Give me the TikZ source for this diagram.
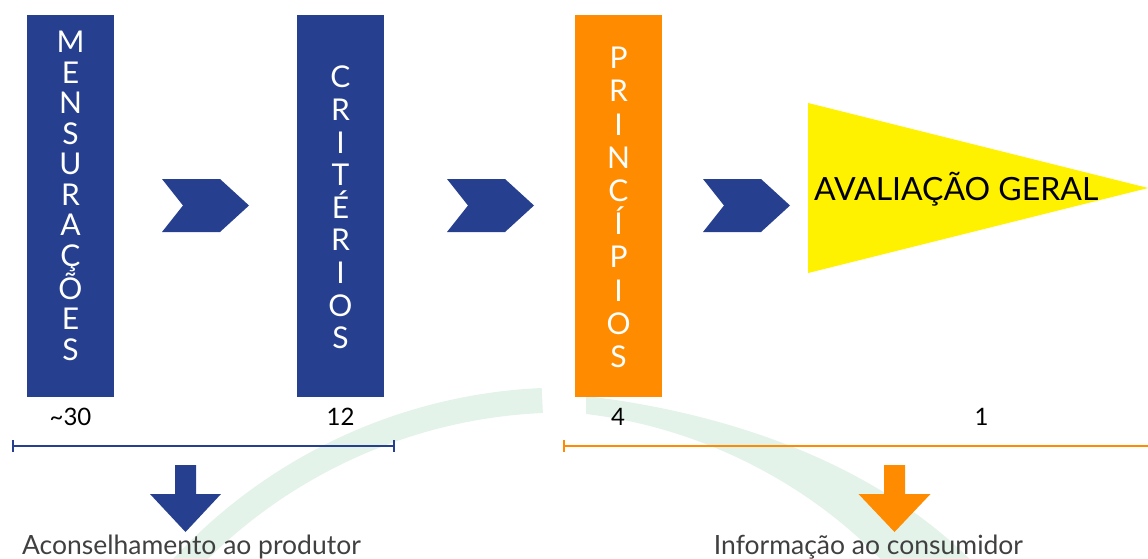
\documentclass[tikz,border=0pt]{standalone}
\usepackage{fontspec}
\setmainfont{Lato}
\usepackage{tikz}
\usetikzlibrary{positioning}
\usetikzlibrary{arrows.meta}

\definecolor{barblue}{RGB}{38,64,143}
\definecolor{barorange}{RGB}{255,140,0}
\definecolor{sumyellow}{RGB}{255,242,0}
\definecolor{arcgreen}{RGB}{228,243,234}
\definecolor{textgray}{RGB}{64,64,64}

\begin{document}
\begin{tikzpicture}[x=1pt,y=-1pt,
  bar/.style={minimum width=87pt,minimum height=382pt,inner sep=0pt},
  bartext/.style={text=white,align=center,inner sep=0pt,font=\fontsize{30}{#1}\selectfont},
  count/.style={font=\fontsize{24}{28}\selectfont,inner sep=0pt,anchor=base},
  target/.style={text=textgray,font=\fontsize{26.5}{30}\selectfont,inner sep=0pt,anchor=base}]
  \useasboundingbox (0,0) rectangle (1148,559);
  \clip (0,0) rectangle (1148,559);

  % green bands in the back
  \draw[arcgreen,line width=25pt] (542.3,400.5) arc[start angle=92.5,end angle=150,radius=521pt];
  \fill[arcgreen] (586,396) .. controls (720,412) and (880,460) .. (985,575)
    -- (895,575) .. controls (830,500) and (720,430) .. (586,414) -- cycle;

  % the three levels
  \node[bar,fill=barblue] (mens) at (70.5,206) {};
  \node[bar,fill=barblue] (crit) at (340.5,206) {};
  \node[bar,fill=barorange] (princ) at (618.5,206) {};
  \node[bartext=30.5] (menstext) at ([yshift=10pt]mens.center) {M\\E\\N\\S\\U\\R\\A\\Ç\\Õ\\E\\S};
  \node[bartext=32.6] (crittext) at ([yshift=-1.5pt]crit.center) {C\\R\\I\\T\\É\\R\\I\\O\\S};
  \node[bartext=33.2] (princtext) at ([yshift=-1.5pt]princ.center) {P\\R\\I\\N\\C\\Í\\P\\I\\O\\S};

  % chevrons
  \fill[barblue] (162,179) -- ++(58,0) -- ++(29,26.5) -- ++(-29,26.5) -- ++(-58,0) -- ++(21,-26.5) -- cycle;
  \fill[barblue] (447,179) -- ++(58,0) -- ++(29,26.5) -- ++(-29,26.5) -- ++(-58,0) -- ++(21,-26.5) -- cycle;
  \fill[barblue] (703,179) -- ++(58,0) -- ++(29,26.5) -- ++(-29,26.5) -- ++(-58,0) -- ++(21,-26.5) -- cycle;

  % overall result
  \fill[sumyellow] (808,103) -- (1148,188) -- (808,273) -- cycle;
  \node[font=\fontsize{32}{36}\selectfont,inner sep=0pt,anchor=base west] (geral) at (814,200) {AVALIAÇÃO GERAL};

  % counts
  \node[count] (n30) at (70.5,425) {\textasciitilde 30};
  \node[count] (n12) at (340.5,425) {12};
  \node[count] (n4) at (618,425) {4};
  \node[count] (n1) at (981.5,425) {1};

  % ranges
  \coordinate (bluel) at (12,446);
  \coordinate (bluer) at (395,446);
  \coordinate (orangel) at (563,446);
  \coordinate (oranger) at (1152,446);
  \draw[barblue,line width=2pt,{Bar[width=12pt]}-{Bar[width=12pt]}] (bluel) -- (bluer);
  \draw[barorange,line width=2pt,{Bar[width=12pt]}-] (orangel) -- (oranger);

  % down arrows
  \coordinate (prodtop) at (185.5,465);
  \coordinate (constop) at (894.5,465);
  \fill[barblue] (prodtop) ++(-10.5,0) -- ++(21,0) -- ++(0,29) -- ++(25,0) -- ++(-35.5,38) -- ++(-35.5,-38) -- ++(25,0) -- cycle;
  \fill[barorange] (constop) ++(-10.5,0) -- ++(21,0) -- ++(0,29) -- ++(25.5,0) -- ++(-36,38) -- ++(-36,-38) -- ++(25.5,0) -- cycle;

  \node[target] (prod) at (191.5,554) {Aconselhamento ao produtor};
  \node[target] (cons) at (868.5,554) {Informação ao consumidor};
\end{tikzpicture}
\end{document}
